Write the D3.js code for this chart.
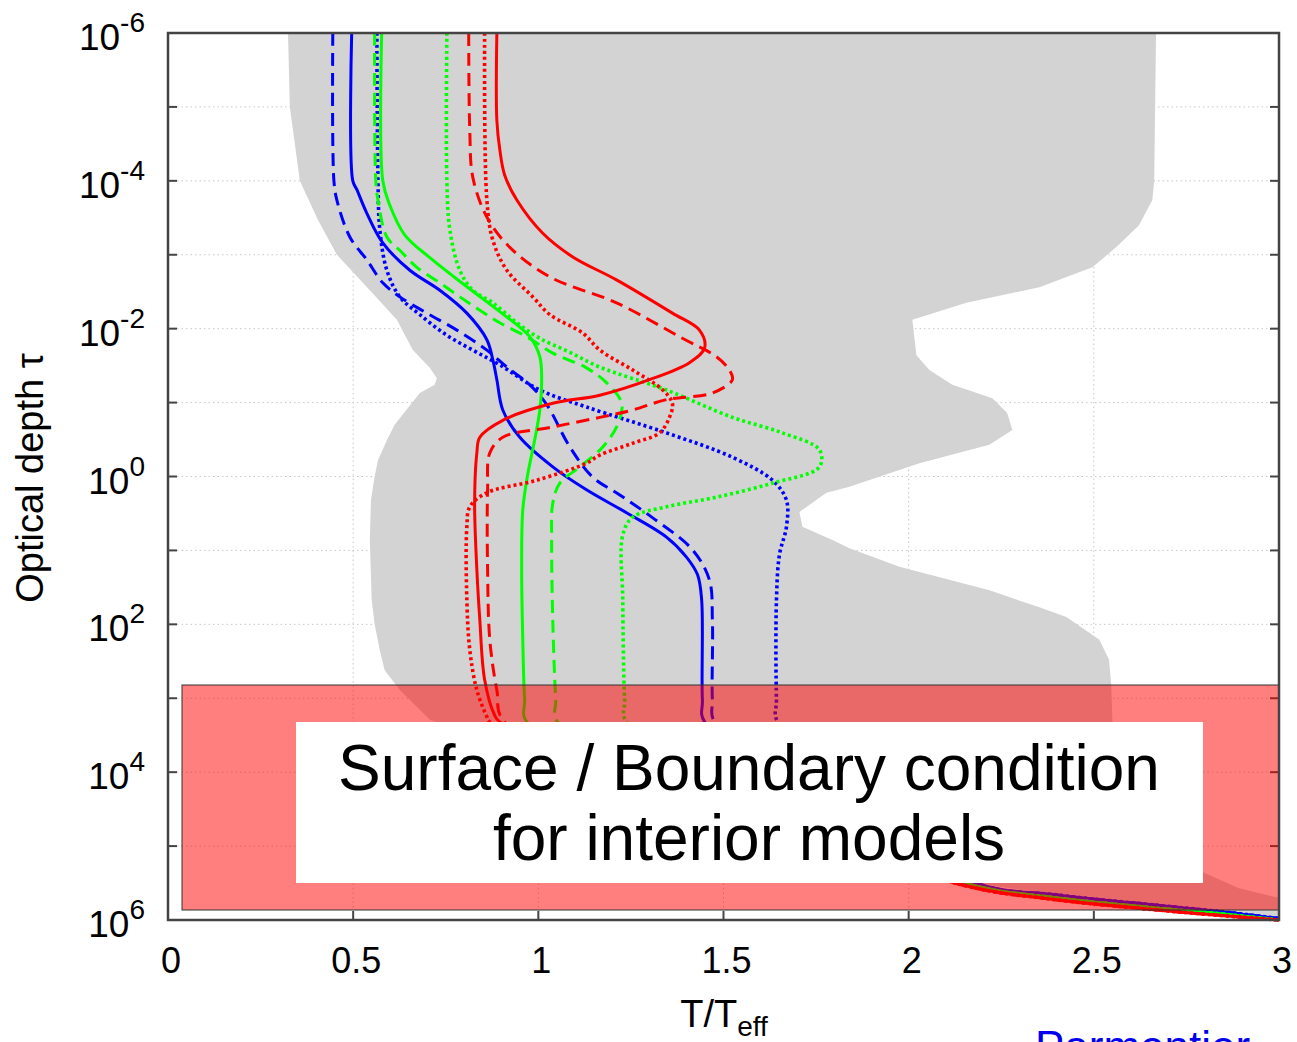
<!DOCTYPE html>
<html>
<head>
<meta charset="utf-8">
<script src="https://cdn.jsdelivr.net/npm/d3@7"></script>
<style>
  body { margin: 0; background: #fff; }
  svg { display: block; font-family: "Liberation Sans", Arial, Helvetica, sans-serif; }
</style>
</head>
<body>
<div id="chart"></div>
<script>
// T/Teff vs log10(optical depth)
const xTicks = [0, 0.5, 1, 1.5, 2, 2.5, 3];
const xTickLabels = ["0", "0.5", "1", "1.5", "2", "2.5", "3"];
const yGridExps = [-6, -5, -4, -3, -2, -1, 0, 1, 2, 3, 4, 5, 6];
const yLabelExps = [-6, -4, -2, 0, 2, 4, 6];

// envelope of all models (grey band): left edge top->bottom, right edge bottom->top
const envelopeLeft = [
  [0.324, -6], [0.329, -5.0], [0.356, -4.0], [0.405, -3.47], [0.456, -3.0], [0.545, -2.52],
  [0.618, -2.12], [0.661, -1.71], [0.707, -1.47], [0.726, -1.33], [0.72, -1.24], [0.68, -1.13],
  [0.658, -0.99], [0.612, -0.7], [0.591, -0.49], [0.567, -0.22], [0.558, 0], [0.548, 0.32],
  [0.545, 0.86], [0.55, 1.67], [0.558, 2.0], [0.572, 2.35], [0.585, 2.62], [0.626, 2.89],
  [0.707, 3.29], [1.435, 4.65], [2.137, 5.47], [2.38, 5.65], [2.649, 5.8], [2.83, 5.88], [3.0, 5.97]
];
const envelopeRight = [
  [3.0, 5.7], [2.892, 5.57], [2.798, 5.36], [2.649, 4.78], [2.555, 3.83], [2.55, 3.29],
  [2.547, 2.82], [2.541, 2.48], [2.515, 2.21], [2.426, 1.9], [2.353, 1.77], [2.218, 1.54],
  [1.975, 1.22], [1.84, 0.97], [1.794, 0.86], [1.713, 0.68], [1.705, 0.48], [1.778, 0.22],
  [1.84, 0.14], [2.029, -0.18], [2.218, -0.43], [2.28, -0.63], [2.266, -0.86], [2.226, -1.06],
  [2.118, -1.24], [2.056, -1.44], [2.021, -1.64], [2.01, -2.12], [2.156, -2.35], [2.353, -2.56],
  [2.496, -2.83], [2.56, -3.1], [2.622, -3.4], [2.658, -3.74], [2.663, -4.0], [2.668, -6]
];

// deep tails below the label box
const redTail = [[2.14, 5.52], [2.37, 5.71], [2.64, 5.85], [2.82, 5.93], [3.0, 6.0]];
const greenTail = [[2.15, 5.5], [2.38, 5.69], [2.65, 5.83], [2.83, 5.91], [3.0, 6.0]];
const blueTail = [[2.17, 5.48], [2.4, 5.66], [2.67, 5.8], [2.85, 5.89], [3.0, 5.98]];

const blueSolid = [
  [0.496, -6], [0.499, -4.0], [0.51, -3.88], [0.537, -3.56], [0.58, -3.16], [0.653, -2.79],
  [0.734, -2.52], [0.807, -2.21], [0.861, -1.85], [0.877, -1.58], [0.888, -1.31], [0.904, -0.9],
  [0.95, -0.53], [1.039, -0.13], [1.13, 0.18], [1.238, 0.49], [1.346, 0.82], [1.4, 1.09],
  [1.43, 1.33], [1.441, 1.67], [1.443, 3.02], [1.449, 3.32]
];
const blueDashed = [
  [0.445, -6], [0.448, -4.0], [0.456, -3.74], [0.491, -3.24], [0.537, -2.93], [0.58, -2.62],
  [0.626, -2.43], [0.699, -2.21], [0.78, -1.98], [0.861, -1.71], [0.915, -1.48], [0.977, -1.24],
  [1.023, -0.97], [1.085, -0.4], [1.147, 0.01], [1.22, 0.25], [1.309, 0.56], [1.416, 0.99],
  [1.462, 1.4], [1.47, 1.94], [1.47, 3.02], [1.476, 3.32]
];
const blueDotted = [
  [0.564, -6], [0.567, -4.0], [0.572, -3.34], [0.591, -2.79], [0.626, -2.43], [0.68, -2.19],
  [0.753, -1.91], [0.823, -1.71], [0.896, -1.51], [1.004, -1.17], [1.13, -0.94], [1.346, -0.59],
  [1.524, -0.26], [1.632, 0.05], [1.67, 0.32], [1.67, 0.68], [1.651, 1.06], [1.643, 1.67],
  [1.643, 3.02], [1.646, 3.32]
];
const greenSolid = [
  [0.577, -6], [0.58, -4.0], [0.599, -3.67], [0.639, -3.27], [0.707, -2.96], [0.801, -2.59],
  [0.896, -2.23], [0.977, -1.89], [1.004, -1.62], [1.009, -1.31], [1.004, -0.9], [0.99, -0.49],
  [0.971, -0.02], [0.958, 0.45], [0.955, 1.26], [0.958, 2.21], [0.963, 3.02], [0.969, 3.32]
];
const greenDashed = [
  [0.558, -6], [0.561, -4.0], [0.567, -3.74], [0.591, -3.24], [0.626, -3.06], [0.672, -2.83],
  [0.734, -2.62], [0.788, -2.43], [0.842, -2.25], [0.896, -2.08], [0.969, -1.89], [1.039, -1.67],
  [1.13, -1.47], [1.184, -1.27], [1.225, -0.99], [1.214, -0.7], [1.174, -0.4], [1.112, -0.13],
  [1.058, 0.09], [1.039, 0.36], [1.036, 0.86], [1.039, 1.94], [1.047, 3.02], [1.052, 3.32]
];
const greenDotted = [
  [0.753, -6], [0.753, -4.0], [0.761, -3.34], [0.788, -2.79], [0.823, -2.52], [0.877, -2.35],
  [0.942, -2.08], [1.004, -1.87], [1.085, -1.68], [1.166, -1.48], [1.346, -1.17], [1.524, -0.8],
  [1.659, -0.59], [1.759, -0.36], [1.759, -0.13], [1.632, 0.09], [1.481, 0.28], [1.346, 0.41],
  [1.255, 0.55], [1.228, 0.79], [1.228, 1.67], [1.233, 3.02], [1.238, 3.32]
];
const redSolid = [
  [0.888, -6], [0.888, -4.82], [0.896, -4.42], [0.909, -4.08], [0.942, -3.74], [1.012, -3.29],
  [1.093, -2.97], [1.211, -2.66], [1.362, -2.21], [1.435, -1.98], [1.449, -1.74], [1.408, -1.54],
  [1.3, -1.31], [1.166, -1.1], [1.039, -0.99], [0.904, -0.76], [0.842, -0.53], [0.834, -0.32],
  [0.828, 0.36], [0.834, 1.26], [0.842, 1.94], [0.855, 2.75], [0.882, 3.23], [0.896, 3.32]
];
const redDashed = [
  [0.812, -6], [0.815, -4.65], [0.823, -4.05], [0.861, -3.51], [0.923, -3.1], [1.031, -2.7],
  [1.211, -2.35], [1.389, -1.87], [1.481, -1.62], [1.516, -1.44], [1.524, -1.31], [1.47, -1.13],
  [1.346, -1.04], [1.255, -0.9], [1.166, -0.8], [1.039, -0.67], [0.904, -0.53], [0.869, -0.32],
  [0.863, 0.18], [0.863, 1.26], [0.869, 2.21], [0.888, 2.89], [0.909, 3.32]
];
const redDotted = [
  [0.855, -6], [0.861, -3.74], [0.877, -3.2], [0.915, -2.79], [0.985, -2.43], [1.031, -2.19],
  [1.12, -1.94], [1.166, -1.71], [1.255, -1.44], [1.336, -1.17], [1.362, -0.99], [1.354, -0.8],
  [1.327, -0.59], [1.255, -0.45], [1.166, -0.29], [1.13, -0.18], [0.996, 0.05], [0.861, 0.22],
  [0.815, 0.41], [0.807, 0.68], [0.807, 1.67], [0.815, 2.35], [0.834, 2.89], [0.861, 3.25],
  [0.869, 3.32]
];

const DASHED = "13,7", DOTTED = "3,3";
const series = [
  { pts: blueSolid.concat(blueTail), color: "#0000ff", dash: null },
  { pts: blueDashed.concat(blueTail), color: "#0000ff", dash: DASHED },
  { pts: blueDotted.concat(blueTail), color: "#0000ff", dash: DOTTED },
  { pts: greenSolid.concat(greenTail), color: "#00ff00", dash: null },
  { pts: greenDashed.concat(greenTail), color: "#00ff00", dash: DASHED },
  { pts: greenDotted.concat(greenTail), color: "#00ff00", dash: DOTTED },
  { pts: redSolid.concat(redTail), color: "#ff0000", dash: null },
  { pts: redDashed.concat(redTail), color: "#ff0000", dash: DASHED },
  { pts: redDotted.concat(redTail), color: "#ff0000", dash: DOTTED }
];

const W = 1297, H = 1042;
const margin = { top: 33, right: 18, bottom: 122, left: 168 };

const svg = d3.select("#chart").append("svg")
  .attr("width", W)
  .attr("height", H);

const x = d3.scaleLinear().domain([0, 3]).range([margin.left, W - margin.right]);
const y = d3.scaleLog().domain([1e-6, 1e6]).range([margin.top, H - margin.bottom]);
const [x0, x1] = x.range();
const [y0, y1] = y.range();

const pt = d => [x(d[0]), y(Math.pow(10, d[1]))];

// grid
const grid = svg.append("g")
  .attr("stroke", "#c8c8c8")
  .attr("stroke-width", 1)
  .attr("stroke-dasharray", "1.5,3");
grid.selectAll("line.v")
  .data(xTicks.slice(1, -1))
  .join("line")
  .attr("class", "v")
  .attr("x1", d => x(d)).attr("x2", d => x(d))
  .attr("y1", y0).attr("y2", y1);
grid.selectAll("line.h")
  .data(yGridExps.slice(1, -1))
  .join("line")
  .attr("class", "h")
  .attr("x1", x0).attr("x2", x1)
  .attr("y1", d => y(Math.pow(10, d))).attr("y2", d => y(Math.pow(10, d)));

// grey envelope
svg.append("path")
  .attr("d", d3.line().curve(d3.curveLinearClosed)(envelopeLeft.concat(envelopeRight).map(pt)))
  .attr("fill", "#d3d3d3");

// profiles
const line = d3.line().curve(d3.curveCatmullRom.alpha(0.5));
svg.append("g")
  .selectAll("path")
  .data(series)
  .join("path")
  .attr("d", d => line(d.pts.map(pt)))
  .attr("fill", "none")
  .attr("stroke", d => d.color)
  .attr("stroke-width", d => d.dash === DOTTED ? 3.6 : 3)
  .attr("stroke-dasharray", d => d.dash);

// ticks (inward)
const ticks = svg.append("g").attr("stroke", "#444").attr("stroke-width", 2);
ticks.selectAll("line.l")
  .data(yGridExps)
  .join("line")
  .attr("class", "l")
  .attr("x1", x0).attr("x2", x0 + 9)
  .attr("y1", d => y(Math.pow(10, d))).attr("y2", d => y(Math.pow(10, d)));
ticks.selectAll("line.r")
  .data(yGridExps)
  .join("line")
  .attr("class", "r")
  .attr("x1", x1).attr("x2", x1 - 9)
  .attr("y1", d => y(Math.pow(10, d))).attr("y2", d => y(Math.pow(10, d)));
ticks.selectAll("line.b")
  .data(xTicks)
  .join("line")
  .attr("class", "b")
  .attr("x1", d => x(d)).attr("x2", d => x(d))
  .attr("y1", y1).attr("y2", y1 - 9);

// boundary-condition highlight
svg.append("rect")
  .attr("x", 182).attr("y", 685)
  .attr("width", x1 - 182).attr("height", 225)
  .attr("fill", "rgba(255,0,0,0.5)")
  .attr("stroke", "#333")
  .attr("stroke-width", 1);

svg.append("rect")
  .attr("x", 296).attr("y", 722)
  .attr("width", 907).attr("height", 161)
  .attr("fill", "#fff");

const note = svg.append("text")
  .attr("text-anchor", "middle")
  .attr("font-size", 64)
  .attr("fill", "#000");
note.append("tspan").attr("x", 749).attr("y", 790).text("Surface / Boundary condition");
note.append("tspan").attr("x", 749).attr("y", 860).text("for interior models");

// frame
svg.append("rect")
  .attr("x", x0).attr("y", y0)
  .attr("width", x1 - x0).attr("height", y1 - y0)
  .attr("fill", "none")
  .attr("stroke", "#444")
  .attr("stroke-width", 2.5);

// x tick labels
svg.append("g")
  .selectAll("text")
  .data(xTicks)
  .join("text")
  .attr("x", d => x(d) + 3)
  .attr("y", 973)
  .attr("text-anchor", "middle")
  .attr("font-size", 36)
  .text((d, i) => xTickLabels[i]);

// y tick labels 10^n
const yl = svg.append("g")
  .selectAll("text")
  .data(yLabelExps)
  .join("text")
  .attr("x", 145)
  .attr("y", d => y(Math.pow(10, d)) + 17)
  .attr("text-anchor", "end")
  .attr("font-size", 37);
yl.append("tspan").text("10");
yl.append("tspan")
  .attr("dy", -18)
  .attr("font-size", 28)
  .text(d => d < 0 ? "-" + (-d) : String(d));

// axis titles
const xt = svg.append("text")
  .attr("x", 724)
  .attr("y", 1027)
  .attr("text-anchor", "middle")
  .attr("font-size", 38);
xt.append("tspan").text("T/T");
xt.append("tspan").attr("dy", 9).attr("font-size", 28).text("eff");

svg.append("text")
  .attr("transform", "translate(43,478) rotate(-90)")
  .attr("text-anchor", "middle")
  .attr("font-size", 38)
  .text("Optical depth τ");

// credit, cut by the bottom edge as in the source slide
svg.append("text")
  .attr("x", 1035)
  .attr("y", 1062)
  .attr("font-size", 44)
  .attr("fill", "#0000ee")
  .text("Parmentier");
</script>
</body>
</html>
